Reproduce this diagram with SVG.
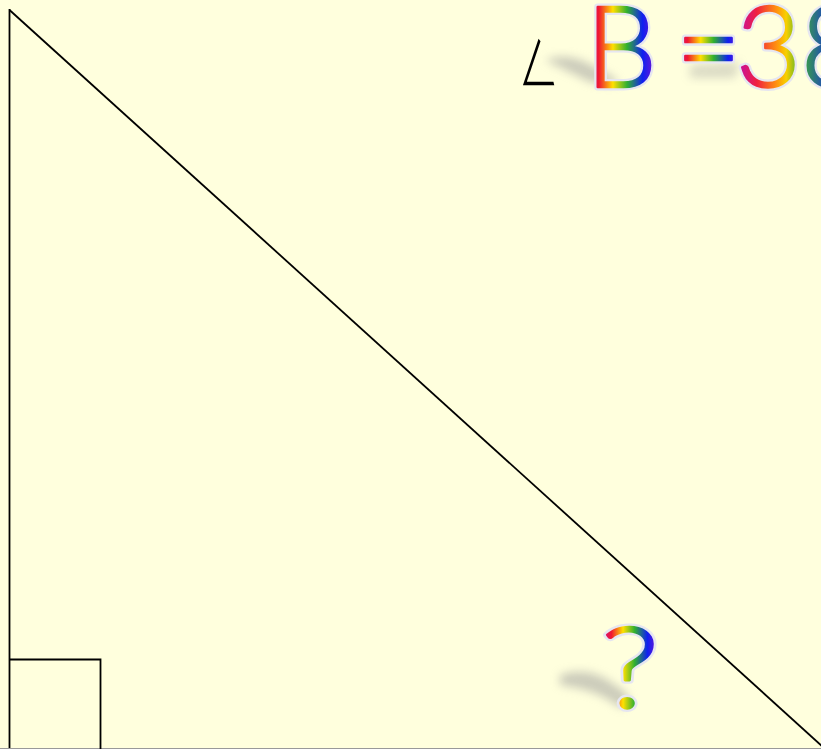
<svg xmlns="http://www.w3.org/2000/svg" width="821" height="749" viewBox="0 0 821 749">
<defs>
<linearGradient id="rb" x1="0" y1="0" x2="1" y2="0">
<stop offset="0" stop-color="#c8109a"/>
<stop offset="0.18" stop-color="#f01830"/>
<stop offset="0.38" stop-color="#ffe000"/>
<stop offset="0.58" stop-color="#30b030"/>
<stop offset="0.8" stop-color="#1020f0"/>
<stop offset="1" stop-color="#8010d0"/>
</linearGradient>
<linearGradient id="rb38" gradientUnits="userSpaceOnUse" x1="740" y1="0" x2="880" y2="0">
<stop offset="0" stop-color="#c8109a"/>
<stop offset="0.12" stop-color="#f02040"/>
<stop offset="0.26" stop-color="#ff9010"/>
<stop offset="0.33" stop-color="#f8d000"/>
<stop offset="0.43" stop-color="#40b030"/>
<stop offset="0.68" stop-color="#1020f0"/>
<stop offset="1" stop-color="#8010d0"/>
</linearGradient>
<filter id="blur" x="-50%" y="-50%" width="200%" height="200%"><feGaussianBlur stdDeviation="5"/></filter>
</defs>
<style>
.ln{stroke:#000;stroke-width:1.8;fill:none}
.rt{font-family:Lato,"Open Sans","DejaVu Sans",sans-serif;font-weight:300;font-size:112px}
.halo{fill:#e6e6f0;stroke:#e6e6f0;stroke-width:7;stroke-linejoin:round}
.g1{fill:url(#rb);stroke:url(#rb);stroke-width:2.4;stroke-linejoin:round}
.g2{fill:url(#rb38);stroke:url(#rb38);stroke-width:2.4;stroke-linejoin:round}
</style>
<rect x="0" y="0" width="821" height="749" fill="#ffffdd"/>
<g id="connectors">
<line x1="9.5" y1="9" x2="9.5" y2="749" class="ln"/>
<line x1="9.5" y1="10" x2="823" y2="747" class="ln"/>
<line x1="0" y1="748.5" x2="821" y2="748.5" stroke="#999" stroke-width="1.2"/>
</g>
<g id="right-angle">
<polyline points="9.5,659.5 100.5,659.5 100.5,749" class="ln"/>
</g>
<g id="shadows">
<path d="M545,60 Q570,50 600,70 Q640,90 590,82 Z" fill="#999" opacity="0.5" filter="url(#blur)"/>
<path d="M690,65 L740,62 L735,78 L690,78 Z" fill="#999" opacity="0.35" filter="url(#blur)"/>
<path d="M560,675 Q590,665 615,685 Q640,700 620,708 Q600,690 560,685 Z" fill="#999" opacity="0.5" filter="url(#blur)"/>
</g>
<g id="label-angle">
<text transform="translate(524,84) skewX(14) scale(0.78,1.33)" x="-7" y="2" font-family="'Noto Sans CJK JP',sans-serif" font-weight="300" font-size="52" fill="#000">∠</text>
<text x="586" y="87" class="rt halo">B</text>
<text x="586" y="87" class="rt g1">B</text>
<text x="676" y="87" class="rt halo">=</text>
<text x="676" y="87" class="rt g1">=</text>
<text x="736" y="87" class="rt halo">38</text>
<text x="736" y="87" class="rt g2">38</text>
</g>
<g id="label-question">
<text transform="translate(601,708) scale(1.2,1)" class="rt halo">?</text>
<text transform="translate(601,708) scale(1.2,1)" class="rt g1">?</text>
</g>
</svg>
